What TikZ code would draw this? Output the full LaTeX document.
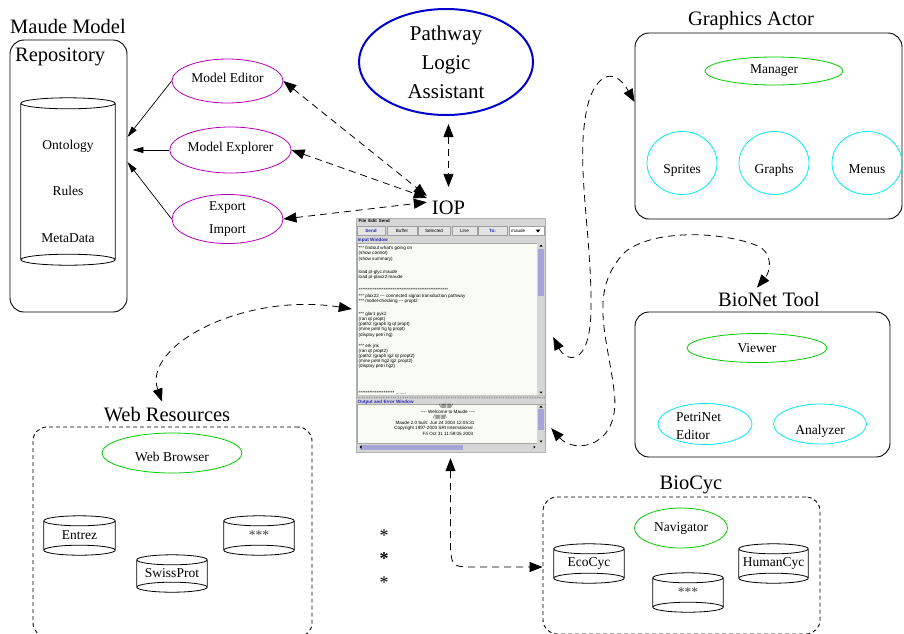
\documentclass[tikz,border=0pt]{standalone}
\usepackage{fontspec}
\setmainfont{Liberation Serif}
\newfontfamily\winfont{Liberation Sans}
\usepackage{xcolor}
\usepackage{tikz}
\usetikzlibrary{shapes,arrows.meta,positioning,calc}

\definecolor{plmagenta}{RGB}{180,0,180}
\definecolor{plgreen}{RGB}{0,205,0}
\definecolor{plcyan}{RGB}{0,235,245}
\definecolor{plblue}{RGB}{0,0,205}
\definecolor{winbg}{RGB}{214,214,214}
\definecolor{winarea}{RGB}{247,251,243}
\definecolor{winthumb}{RGB}{164,164,214}
\definecolor{winblue}{RGB}{40,40,180}
\definecolor{winbtn}{RGB}{228,228,228}

% database drum round a named node: \drawdb[y radius]{node}
\newcommand{\drawdb}[2][5]{%
  \draw[line width=0.8pt] let \p1=(#2.north west), \p2=(#2.south east), \n1={(\x2-\x1)/2} in
    ($(#2.north)+(0,#1)$) ellipse [x radius={\n1*1pt}, y radius=#1pt]
    ($(#2.south)-(0,#1)$) ellipse [x radius={\n1*1pt}, y radius=#1pt]
    ($(#2.north west)+(0,#1)$) -- ($(#2.south west)-(0,#1)$)
    ($(#2.north east)+(0,#1)$) -- ($(#2.south east)-(0,#1)$);
}

\begin{document}
\begin{tikzpicture}[x=1pt, y=-1pt,
    every node/.style={inner sep=0pt},
    tool ellipse/.style={ellipse, draw, line width=0.8pt, align=center, font=\fontsize{13.5pt}{16pt}\selectfont},
    high text/.style={text depth=7pt},
    low text/.style={text height=23pt, text depth=3pt},
    group box/.style={rectangle, draw, line width=0.9pt, rounded corners=14pt},
    web box/.style={group box, dash pattern=on 4pt off 3pt},
    group title/.style={font=\fontsize{20.5pt}{24pt}\selectfont},
    db/.style={rectangle, font=\fontsize{13.5pt}{16pt}\selectfont},
    dlink/.style={line width=0.8pt, dash pattern=on 7pt off 5pt, {Triangle[length=13pt,width=10pt]}-{Triangle[length=13pt,width=10pt]}},
    slink/.style={line width=0.7pt, -{Triangle[length=11pt,width=6pt]}},
    win text/.style={anchor=west, font=\winfont\fontsize{4.6pt}{5.5pt}\selectfont},
    win label/.style={anchor=west, text=winblue, font=\winfont\bfseries\fontsize{4.6pt}{5.5pt}\selectfont},
    win button/.style={rectangle, draw=gray!75, fill=winbtn, minimum height=9pt, font=\winfont\fontsize{4.6pt}{5.5pt}\selectfont}]
    \useasboundingbox (0,0) rectangle (904,633);
    \clip (0,0) rectangle (904,633);

    % Maude model repository
    \node[group box, minimum width=117pt, minimum height=272pt] (repo) at (68.5,176) {};
    \node[group title] (repotitle) at (68,26) {Maude Model};
    \node[group title, anchor=west] (repotitle2) at (15,57) {Repository};
    \node[db, minimum width=94pt, minimum height=167pt] (repodb) at (68,181.5) {};
    \drawdb[5.5]{repodb}
    \node[db] (onto) at (68,146) {Ontology};
    \node[db, below=34pt of onto] (rules) {Rules};
    \node[db, below=37pt of rules] (meta) {MetaData};

    \node[tool ellipse, high text, draw=plmagenta, minimum width=111pt, minimum height=44pt] (edit) at (227.5,81) {Model Editor};
    \node[tool ellipse, high text, draw=plmagenta, minimum width=117pt, minimum height=46pt] (explore) at (230.5,150) {Model Explorer};
    \node[tool ellipse, draw=plmagenta, minimum width=111pt, minimum height=46pt, font=\fontsize{13.5pt}{23pt}\selectfont] (export) at (227.5,219) {Export\\Import};

    \draw[slink] (edit.west) -- ($(repo.east)+(0,-39)$);
    \draw[slink] (explore.west) -- ($(repo.east)+(5,-26)$);
    \draw[slink] (export.west) -- ($(repo.east)+(0,-14)$);

    % assistant and IOP
    \node[tool ellipse, draw=plblue, line width=2pt, minimum width=174pt, minimum height=106pt, font=\fontsize{21pt}{29pt}\selectfont] (pla) at (446,62) {Pathway\\Logic\\Assistant};
    \node[group title, inner sep=5pt] (iop) at (448.5,208) {IOP};

    \draw[dlink] (edit.east) -- (iop.north west);
    \draw[dlink] (explore.east) -- (iop.155);
    \draw[dlink] (export.east) -- (iop.165);
    \draw[dlink, shorten <=8pt, shorten >=9pt] (pla.south -| iop.north) -- (iop.north);

    % IOP window
    \node[rectangle, draw=gray!60, fill=winbg, minimum width=189pt, minimum height=234pt] (iopwin) at (450.5,335) {};
    \node[win text, font=\winfont\bfseries\fontsize{4.4pt}{5pt}\selectfont] (menubar) at (358.5,221) {File\enspace Edit\enspace Send};
    \foreach \x/\w/\c/\t [count=\i] in {371/28pt/winblue/{\bfseries Send}, 402/30pt/black/Buffer, 434/32pt/black/Selected, 464.5/25pt/black/Line, 492.5/29pt/winblue/{\bfseries To:}}
        \node[win button, minimum width=\w, text=\c] (btn\i) at (\x,231) {\t};
    \node[win button, minimum width=35pt, fill=white] (modebox) at (526.5,231) {};
    \node[win text] (mode) at (511,231) {maude};
    \fill (535.5,229.5) -- (540.5,229.5) -- (538,232.5) -- cycle;

    \node[win label] (inlabel) at (357.5,240) {Input Window};
    \draw[gray!70, fill=winarea] (357,243) rectangle (545,395);
    \fill[winbg] (537,243) rectangle (545,395);
    \fill[winthumb] (538,249) rectangle (544,296);
    \fill (539.5,246.5) -- (542.5,246.5) -- (541,244.5) -- cycle;
    \fill (539.5,391.5) -- (542.5,391.5) -- (541,393.5) -- cycle;
    \foreach \y/\t [count=\i] in {248/{*** findout what's going on}, 253.5/{(show control)}, 259/{(show summary)},
        272/{load pl-glyc.maude}, 277.5/{load pl-plax22.maude},
        289.5/{**************************************************},
        296/{*** plax22  {-}{-}{-} connected signal transduction pathway}, 301.5/{*** model-checking  {-}{-}{-} propt2},
        314/{*** glar1 pyk2}, 319.5/{(ran qt propt)}, 324.5/{(path2 (graph lg qt propt)}, 329.5/{(mine petri hg lg propt)}, 335/{(display petri hg)},
        346/{*** erk jnk}, 351/{(ran qt propt2)}, 356/{(path2 (graph lg2 qt propt2)}, 361/{(mine petri hg2 lg2 propt2)}, 366.5/{(display petri hg2)},
        392.5/{********************\ ........}}
        \node[win text] (inl\i) at (358.5,\y) {\t};

    \fill[gray!45] (357,395) rectangle (545,399);
    \draw[gray!80, dotted] (357,397) -- (545,397);
    \node[win label] (outlabel) at (357.5,402) {Output and Error Window};
    \draw[gray!70, fill=winarea] (357,404.5) rectangle (545,443.5);
    \fill[winbg] (537,404.5) rectangle (545,443.5);
    \fill[winthumb] (538,409) rectangle (544,430);
    \fill (539.5,407.5) -- (542.5,407.5) -- (541,405.5) -- cycle;
    \fill (539.5,440.5) -- (542.5,440.5) -- (541,442.5) -- cycle;
    \fill[winbg] (357,443.5) rectangle (545,450.5);
    \fill[winthumb] (360,444.5) rectangle (463,449.5);
    \fill (359.5,447) -- (361.5,445.5) -- (361.5,448.5) -- cycle;
    \fill (535.5,447) -- (533.5,445.5) -- (533.5,448.5) -- cycle;
    \node[win text, anchor=center] (out1) at (446,406.5) {\textbackslash|||||||||/};
    \node[win text, anchor=center] (out2) at (448,412) {{-}{-}{-}{-} Welcome to Maude {-}{-}{-}{-}};
    \node[win text, anchor=center] (out3) at (440,417.5) {/|||||||||\textbackslash};
    \node[win text, anchor=center] (out4) at (435,423) {Maude 2.0 built: Jun 24 2003 12:05:31};
    \node[win text, anchor=center] (out5) at (433.5,428.5) {Copyright 1997-2003 SRI International};
    \node[win text, anchor=center] (out6) at (448,434) {Fri Oct 31 11:59:05 2003};

    % graphics actor
    \node[group box, minimum width=267pt, minimum height=186pt] (ga) at (768.5,126) {};
    \node[group title] (gatitle) at (751,21) {Graphics Actor};
    \node[tool ellipse, draw=plgreen, minimum width=138pt, minimum height=28pt] (manager) at (774,71) {Manager};
    \node[tool ellipse, low text, draw=plcyan, minimum width=70pt, minimum height=63pt] (sprites) at (682,163) {Sprites};
    \node[tool ellipse, low text, draw=plcyan, minimum width=70pt, minimum height=63pt] (graphs) at (774,163) {Graphs};
    \node[tool ellipse, low text, draw=plcyan, minimum width=70pt, minimum height=63pt] (menus) at (867,163) {Menus};

    % bionet tool
    \node[group box, minimum width=255pt, minimum height=145pt] (bn) at (762.5,384.5) {};
    \node[group title] (bntitle) at (769,299) {BioNet Tool};
    \node[tool ellipse, draw=plgreen, minimum width=140pt, minimum height=29pt] (viewer) at (757,348) {Viewer};
    \node[tool ellipse, draw=plcyan, minimum width=94pt, minimum height=41pt] (petri) at (705,424) {};
    \node[align=left, font=\fontsize{13.5pt}{17.5pt}\selectfont] (petrilabel) at (698.5,426) {PetriNet\\Editor};
    \node[tool ellipse, low text, draw=plcyan, minimum width=93pt, minimum height=40pt] (analyzer) at (820,424) {Analyzer};

    % web resources
    \node[web box, minimum width=279pt, minimum height=210pt] (web) at (172.5,532) {};
    \node[group title] (webtitle) at (167,415) {Web Resources};
    \node[tool ellipse, draw=plgreen, minimum width=140pt, minimum height=40pt, text height=17pt, text depth=0pt] (browser) at (172,453) {Web Browser};
    \node[db, minimum width=71pt, minimum height=39pt] (entrez) at (79.5,535.5) {Entrez};
    \node[db, minimum width=70pt, minimum height=37pt] (swiss) at (172,573.5) {SwissProt};
    \node[db, minimum width=70pt, minimum height=39pt, text=black!75] (webmore) at (259,535.5) {***};
    \drawdb{entrez}
    \drawdb{swiss}
    \drawdb{webmore}

    % biocyc
    \node[web box, minimum width=277pt, minimum height=137pt] (biocyc) at (681.5,565.5) {};
    \node[group title] (bctitle) at (691,485) {BioCyc};
    \node[tool ellipse, draw=plgreen, minimum width=93pt, minimum height=40pt] (navigator) at (681,528) {Navigator};
    \node[db, minimum width=70pt, minimum height=39pt] (ecocyc) at (589,563.5) {EcoCyc};
    \node[db, minimum width=69pt, minimum height=39pt] (humancyc) at (773.5,563.5) {HumanCyc};
    \node[db, minimum width=70pt, minimum height=39pt, text=black!75] (bcmore) at (688,592.5) {***};
    \drawdb{ecocyc}
    \drawdb{humancyc}
    \drawdb{bcmore}

    \node[font=\fontsize{18pt}{20pt}\selectfont] (star1) at (384,536) {*};
    \node[font=\bfseries\fontsize{18pt}{20pt}\selectfont] (star2) at (384,559) {*};
    \node[font=\fontsize{18pt}{20pt}\selectfont] (star3) at (384,583) {*};

    % links from the IOP window
    \draw[dlink] ($(iopwin.west)+(-4,-26)$) .. controls (245,292) and (142,345) .. ([xshift=-5pt,yshift=6pt]webtitle.north);
    \draw[dlink] ($(iopwin.east)+(8,2)$) .. controls (566,362) and (590,368) .. (591,310)
        .. controls (592,240) and (577,170) .. (585,120)
        .. controls (590,78) and (612,62) .. ($(ga.west)+(0,-24)$);
    \draw[dlink] ($(iopwin.south east)+(6,-24)$) .. controls (575,455) and (622,447) .. (614,390)
        .. controls (607,335) and (588,290) .. (625,252)
        .. controls (655,228) and (725,232) .. (758,246)
        .. controls (774,254) and (770,272) .. ([xshift=-12pt,yshift=4pt]bntitle.north);
    \draw[dlink] ([yshift=-6pt]iopwin.south) -- (450.5,548) .. controls (452,567) .. (478,567) -- (biocyc.west |- 0,567);
\end{tikzpicture}
\end{document}
